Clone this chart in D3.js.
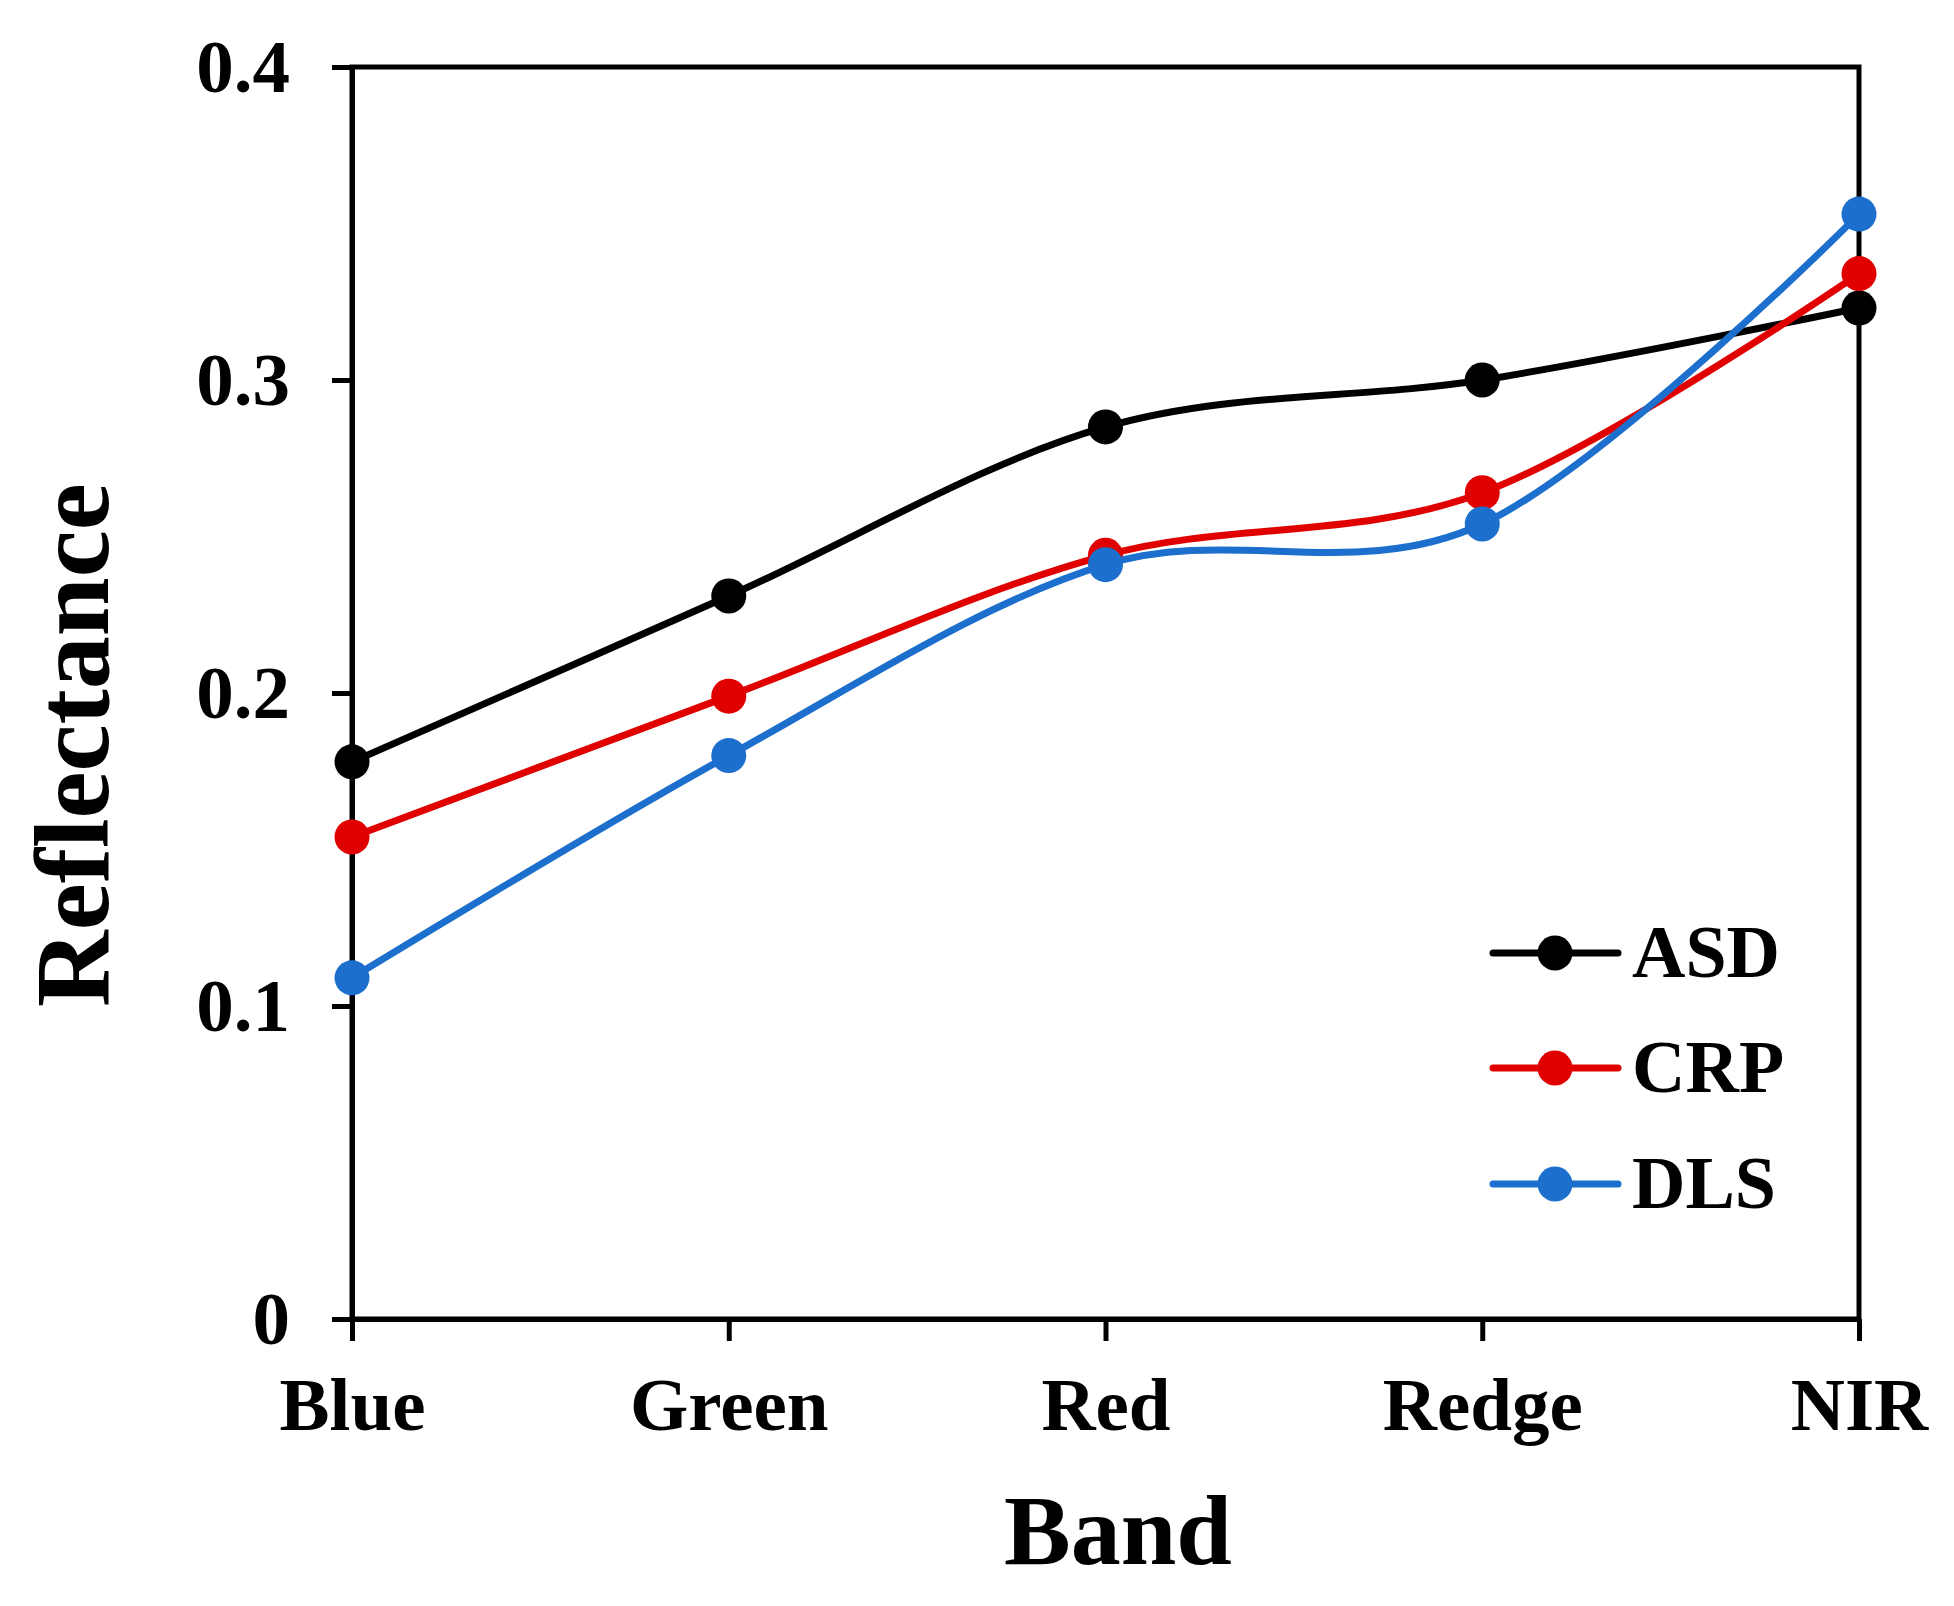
<!DOCTYPE html>
<html>
<head>
<meta charset="utf-8">
<script src="https://cdn.jsdelivr.net/npm/d3@7"></script>
<style>
  html, body { margin: 0; padding: 0; background: #fff; }
  svg { display: block; }
  text { font-family: "Liberation Serif", "Times New Roman", serif; font-weight: bold; fill: #000; }
</style>
</head>
<body>
<svg id="chart" width="1954" height="1606"></svg>
<script>
// ---- Data ----
const categories = ["Blue", "Green", "Red", "Redge", "NIR"];
const seriesNames = ["ASD", "CRP", "DLS"];
const asd = [0.178, 0.231, 0.285, 0.300, 0.323];
const crp = [0.154, 0.199, 0.244, 0.264, 0.334];
const dls = [0.109, 0.180, 0.241, 0.254, 0.353];
const yTicks = [0, 0.1, 0.2, 0.3, 0.4];
const yTickLabels = ["0", "0.1", "0.2", "0.3", "0.4"];
const colors = ["#000000", "#e00000", "#1c6fcd"];

// ---- Layout ----
const W = 1954, H = 1606;
const margin = { left: 352, right: 95, top: 67, bottom: 287 };
const pw = W - margin.left - margin.right;
const ph = H - margin.top - margin.bottom;

const svg = d3.select("#chart");
const g = svg.append("g").attr("transform", `translate(${margin.left},${margin.top})`);

const x = d3.scalePoint().domain(categories).range([0, pw]).padding(0);
const y = d3.scaleLinear().domain([0, 0.4]).range([ph, 0]);

// frame (top & right)
g.append("rect")
  .attr("x", 0).attr("y", 0).attr("width", pw).attr("height", ph)
  .attr("fill", "none").attr("stroke", "#000").attr("stroke-width", 5);

// y axis
const yAxis = g.append("g")
  .call(d3.axisLeft(y).tickValues(yTicks).tickSize(20).tickSizeOuter(0).tickPadding(42)
    .tickFormat((d, i) => yTickLabels[i]));
yAxis.selectAll("path, line").attr("stroke", "#000").attr("stroke-width", 5);
yAxis.selectAll("text").style("font-size", "75px").attr("dy", "0.33em");
yAxis.attr("font-family", null).attr("font-size", null);

// x axis
const xAxis = g.append("g").attr("transform", `translate(0,${ph})`)
  .call(d3.axisBottom(x).tickSize(22).tickSizeOuter(0));
xAxis.selectAll("path, line").attr("stroke", "#000").attr("stroke-width", 5);
xAxis.selectAll("text").style("font-size", "75px").attr("y", 111).attr("dy", 0);
xAxis.attr("font-family", null).attr("font-size", null);

// series
const allSeries = [asd, crp, dls];
const line = d3.line()
  .x((d, i) => x(categories[i]))
  .y(d => y(d))
  .curve(d3.curveCardinal.tension(0));

allSeries.forEach((vals, si) => {
  const sg = g.append("g");
  sg.append("path")
    .datum(vals)
    .attr("d", line)
    .attr("fill", "none")
    .attr("stroke", colors[si])
    .attr("stroke-width", 7)
    .attr("stroke-linejoin", "round");
  sg.selectAll("circle")
    .data(vals)
    .join("circle")
    .attr("cx", (d, i) => x(categories[i]))
    .attr("cy", d => y(d))
    .attr("r", 17.5)
    .attr("fill", colors[si]);
});

// axis titles
svg.append("text")
  .attr("x", 1118).attr("y", 1564)
  .attr("text-anchor", "middle")
  .style("font-size", "100px")
  .text("Band");

svg.append("text")
  .attr("transform", "translate(108,745) rotate(-90)")
  .attr("text-anchor", "middle")
  .style("font-size", "106px")
  .text("Reflectance");

// legend
const legendY = [953, 1068, 1184];
const legend = svg.append("g");
seriesNames.forEach((name, i) => {
  const ly = legendY[i];
  legend.append("line")
    .attr("x1", 1493).attr("x2", 1618).attr("y1", ly).attr("y2", ly)
    .attr("stroke", colors[i]).attr("stroke-width", 7).attr("stroke-linecap", "round");
  legend.append("circle")
    .attr("cx", 1555).attr("cy", ly).attr("r", 17.5).attr("fill", colors[i]);
  legend.append("text")
    .attr("x", 1632).attr("y", ly + 24)
    .style("font-size", "74px")
    .text(name);
});
</script>
</body>
</html>
